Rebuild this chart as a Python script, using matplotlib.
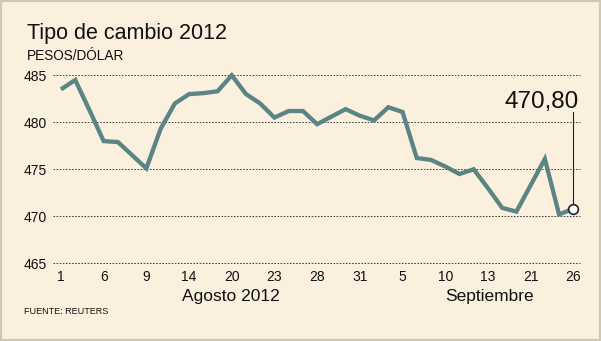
import matplotlib
matplotlib.use("Agg")
import matplotlib.pyplot as plt
from matplotlib.patches import Rectangle

# Exchange rate, pesos per dollar, one value per trading day
rates = [483.5, 484.5, 481.3, 478.0, 477.9, 476.5, 475.1, 479.3, 482.0, 483.0,
         483.1, 483.3, 485.0, 483.0, 482.0, 480.5, 481.2, 481.2, 479.8, 480.6,
         481.4, 480.7, 480.2, 481.6, 481.1, 476.2, 476.0, 475.3, 474.5, 475.0,
         473.0, 470.9, 470.5, 473.3, 476.1, 470.2, 470.8]
day_labels = ["1", "6", "9", "14", "20", "23", "28", "31", "5", "10", "13", "21", "26"]
label_step = 3
y_ticks = [465, 470, 475, 480, 485]
last_label = "470,80"
last_value = 470.80

bg = "#FBF0DE"
line_col = "#5B8584"
txt = "#111111"
plt.rcParams["font.family"] = ["Liberation Sans", "DejaVu Sans"]

W, H = 601, 341
fig = plt.figure(figsize=(W / 100, H / 100), dpi=100, facecolor=bg)

def fx(px):
    return px / W

def fy(py):
    return 1 - py / H

ax = fig.add_axes([fx(53), fy(263.3), fx(580) - fx(53), fy(75.3) - fy(263.3)])
ax.set_facecolor(bg)
ax.set_xlim(-0.56, len(rates) - 1 + 0.47)
ax.set_ylim(465, 485)

for v in y_ticks:
    ax.axhline(v, color="#3a3a3a", lw=0.7, ls=(0, (1.6, 1.6)), zorder=1,
               clip_on=False)

xs = list(range(len(rates)))
ax.plot(xs, rates, color=line_col, lw=3.1, solid_joinstyle="miter",
        solid_capstyle="butt", zorder=3, clip_on=False)

# Marker and callout for the last value
ax.plot([xs[-1], xs[-1]], [last_value, 481.1], color="#222222", lw=0.8,
        zorder=4, clip_on=False)
ax.plot(xs[-1], last_value, "o", ms=7, mfc="white", mec="#222222", mew=1.2,
        zorder=5, clip_on=False)
ax.text(xs[-1] + 0.4, 481.5, last_label, ha="right", va="baseline",
        fontsize=17.5, color=txt)

ax.set_yticks(y_ticks)
ax.set_yticklabels([str(v) for v in y_ticks], fontsize=10, color=txt)
ax.set_xticks(xs[::label_step])
ax.set_xticklabels(day_labels, fontsize=10, color=txt)
ax.tick_params(length=0, axis="y", pad=4.5)
ax.tick_params(length=0, axis="x", pad=5)
for s in ax.spines.values():
    s.set_visible(False)

fig.text(fx(27), fy(39.5), "Tipo de cambio 2012", fontsize=15.5, color=txt,
         va="baseline", ha="left")
fig.text(fx(27), fy(60), "PESOS/DÓLAR", fontsize=9.8, color=txt,
         va="baseline", ha="left")
fig.text(fx(231), fy(296), "Agosto 2012", fontsize=12.5, color=txt,
         va="center", ha="center")
fig.text(fx(489), fy(296), "Septiembre", fontsize=12.5, color=txt,
         va="center", ha="center")
fig.text(fx(24), fy(311.5), "FUENTE: REUTERS", fontsize=6.5, color=txt,
         va="center", ha="left")

fig.patches.append(Rectangle((0, 0), 1, 1, transform=fig.transFigure,
                             fill=False, ec="#D2C6B6", lw=3, zorder=10))

fig.savefig("out.png", dpi=100, facecolor=bg)
